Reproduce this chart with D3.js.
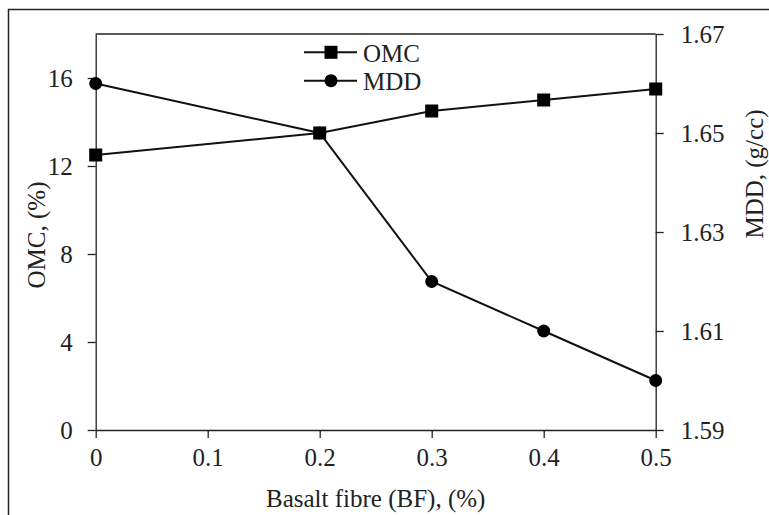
<!DOCTYPE html>
<html>
<head>
<meta charset="utf-8">
<script src="https://cdn.jsdelivr.net/npm/d3@7/dist/d3.min.js"></script>
<style>
  html, body { margin: 0; padding: 0; background: #fff; }
  svg { display: block; }
  text { font-family: "Liberation Serif", "Times New Roman", serif; fill: #222; }
</style>
</head>
<body>
<svg id="chart" width="769" height="515"></svg>
<script>
// ---- data ----
const fibre = [0, 0.2, 0.3, 0.4, 0.5];
const omc = [12.5, 13.5, 14.5, 15, 15.5];
const mdd = [1.66, 1.65, 1.62, 1.61, 1.60];
const xTicks = [0, 0.1, 0.2, 0.3, 0.4, 0.5];
const xTickLabels = ["0", "0.1", "0.2", "0.3", "0.4", "0.5"];
const yLeftTicks = [0, 4, 8, 12, 16];
const yRightTicks = [1.59, 1.61, 1.63, 1.65, 1.67];
const seriesNames = ["OMC", "MDD"];

(function () {
const svg = d3.select("#chart");
const W = 769, H = 515;
const mLeft = 95.7, mRight = 655.7, mTop = 34, mBottom = 430;
const ink = "#222";

// outer frame (extends beyond right/bottom edges)
svg.append("rect")
  .attr("x", 8.5).attr("y", 9.5)
  .attr("width", W + 10).attr("height", H + 10)
  .attr("fill", "none").attr("stroke", ink).attr("stroke-width", 1.5);

const x = d3.scaleLinear().domain([0, 0.5]).range([mLeft, mRight]);
const yL = d3.scaleLinear().domain([0, 18]).range([mBottom, mTop]);
const yR = d3.scaleLinear().domain([1.59, 1.67]).range([mBottom, mTop]);

const fs = 25;

// top border of plot
svg.append("line")
  .attr("x1", mLeft).attr("x2", mRight).attr("y1", mTop).attr("y2", mTop)
  .attr("stroke", ink).attr("stroke-width", 1.3);

function styleAxis(g) {
  g.select(".domain").attr("stroke", ink).attr("stroke-width", 1.3);
  g.selectAll(".tick line").attr("stroke", ink).attr("stroke-width", 1.3);
  g.selectAll(".tick text")
    .attr("font-family", "'Liberation Serif', 'Times New Roman', serif")
    .attr("font-size", fs).attr("fill", ink);
}

// bottom axis
svg.append("g")
  .attr("transform", `translate(0,${mBottom})`)
  .call(d3.axisBottom(x).tickValues(xTicks)
    .tickFormat((d, i) => xTickLabels[i]).tickSize(8).tickSizeOuter(0).tickPadding(10))
  .call(styleAxis);

// left axis
svg.append("g")
  .attr("transform", `translate(${mLeft},0)`)
  .call(d3.axisLeft(yL).tickValues(yLeftTicks)
    .tickFormat(d3.format("d")).tickSize(8).tickSizeOuter(0).tickPadding(15))
  .call(styleAxis);

// right axis
svg.append("g")
  .attr("transform", `translate(${mRight},0)`)
  .call(d3.axisRight(yR).tickValues(yRightTicks)
    .tickFormat(d3.format(".2f")).tickSize(8).tickSizeOuter(0).tickPadding(17))
  .call(styleAxis);

// axis titles
svg.append("text")
  .attr("x", (mLeft + mRight) / 2).attr("y", 507)
  .attr("text-anchor", "middle").attr("font-size", fs)
  .text("Basalt fibre (BF), (%)");

svg.append("text")
  .attr("transform", "translate(45,235) rotate(-90)")
  .attr("text-anchor", "middle").attr("font-size", fs)
  .text("OMC, (%)");

svg.append("text")
  .attr("transform", "translate(763,174) rotate(-90)")
  .attr("text-anchor", "middle").attr("font-size", fs)
  .text("MDD, (g/cc)");

// lines
const omcData = fibre.map((f, i) => [f, omc[i]]);
const mddData = fibre.map((f, i) => [f, mdd[i]]);

svg.append("path")
  .datum(omcData)
  .attr("fill", "none").attr("stroke", "#111").attr("stroke-width", 2)
  .attr("d", d3.line().x(d => x(d[0])).y(d => yL(d[1])));

svg.append("path")
  .datum(mddData)
  .attr("fill", "none").attr("stroke", "#111").attr("stroke-width", 2)
  .attr("d", d3.line().x(d => x(d[0])).y(d => yR(d[1])));

const sq = 13;
svg.selectAll("rect.omc").data(omcData).enter().append("rect")
  .attr("class", "omc")
  .attr("x", d => x(d[0]) - sq / 2).attr("y", d => yL(d[1]) - sq / 2)
  .attr("width", sq).attr("height", sq).attr("fill", "#000");

svg.selectAll("circle.mdd").data(mddData).enter().append("circle")
  .attr("class", "mdd")
  .attr("cx", d => x(d[0])).attr("cy", d => yR(d[1]))
  .attr("r", 6.5).attr("fill", "#000");

// legend
const lg = svg.append("g");
const legY = [52.3, 80.7];
seriesNames.forEach((name, i) => {
  const y = legY[i];
  lg.append("line").attr("x1", 304).attr("x2", 357).attr("y1", y).attr("y2", y)
    .attr("stroke", "#111").attr("stroke-width", 2);
  if (i === 0) {
    lg.append("rect").attr("x", 331 - sq / 2).attr("y", y - sq / 2)
      .attr("width", sq).attr("height", sq).attr("fill", "#000");
  } else {
    lg.append("circle").attr("cx", 331).attr("cy", y).attr("r", 6.5).attr("fill", "#000");
  }
  lg.append("text").attr("x", 363).attr("y", y + 9.5)
    .attr("font-size", fs).text(name);
});
})();
</script>
</body>
</html>
